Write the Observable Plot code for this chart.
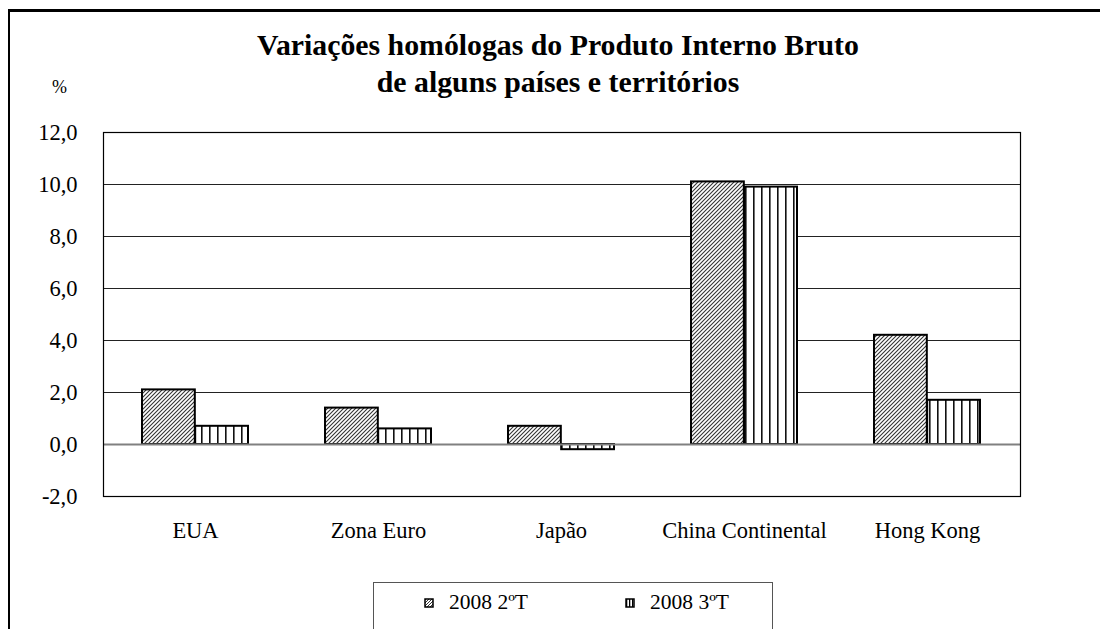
<!DOCTYPE html>
<html>
<head>
<meta charset="utf-8">
<script src="https://cdn.jsdelivr.net/npm/d3@7"></script>
<script src="https://cdn.jsdelivr.net/npm/@observablehq/plot@0.6"></script>
<style>
  html, body { margin: 0; padding: 0; background: #fff; overflow: hidden; }
  body { width: 1100px; height: 629px; position: relative; font-family: "Liberation Serif", "Times New Roman", serif; color: #000; }
  #frame { position: absolute; left: 8px; top: 9px; width: 1200px; height: 700px; border-left: 2px solid #000; border-top: 3px solid #000; }
  #title { position: absolute; left: 0; width: 1116px; top: 26px; text-align: center; font-weight: bold; font-size: 29.8px; line-height: 37px; white-space: nowrap; }
  #unit { position: absolute; left: 52px; top: 77px; font-size: 18px; font-family: "Liberation Serif", serif; }
  #chart { position: absolute; left: 0; top: 100px; }
  #chart svg, #chart svg text { font-family: "Liberation Serif", "Times New Roman", serif !important; font-size: 22.5px !important; fill: #000; }
  #legend { position: absolute; left: 373px; top: 582px; width: 400px; height: 80px; border: 1px solid #555; box-sizing: border-box; font-family: "Liberation Serif", serif; }
  .item { position: absolute; top: 4px; height: 30px; font-size: 21.5px; display: flex; align-items: center; gap: 15px; }
  .item svg { display: block; margin-top: 2px; }
</style>
</head>
<body>
<div id="frame"></div>
<div id="title">Variações homólogas do Produto Interno Bruto<br>de alguns países e territórios</div>
<div id="unit">%</div>
<div id="chart"></div>
<div id="legend"></div>
<script>
const categories = ["EUA", "Zona Euro", "Japão", "China Continental", "Hong Kong"];
const seriesNames = ["2008 2ºT", "2008 3ºT"];
const q2Values = [2.1, 1.4, 0.7, 10.1, 4.2];
const q3Values = [0.7, 0.6, -0.2, 9.9, 1.7];
const yTicks = [-2, 0, 2, 4, 6, 8, 10, 12];

const data = categories.flatMap((c, i) => [
  {category: c, series: seriesNames[0], value: q2Values[i]},
  {category: c, series: seriesNames[1], value: q3Values[i]}
]);

const fmt = d => d3.format(".1f")(d).replace(".", ",").replace("−", "-");

const W = 1100, H = 460;
const mL = 103, mR = 80, mT = 32, mB = 64;
const step = (W - mL - mR) / 5;
const bw = step * 0.58;
const half = bw / 2;

const plot = Plot.plot({
  width: W,
  height: H,
  marginLeft: mL,
  marginRight: mR,
  marginTop: mT,
  marginBottom: mB,
  style: {background: "transparent", color: "#000"},
  x: {domain: categories, paddingInner: 0.42, paddingOuter: 0.21, label: null, tickSize: 0, tickPadding: 26},
  y: {domain: [-2, 12], ticks: yTicks, tickFormat: fmt, label: null, tickSize: 0, tickPadding: 26},
  marks: [
    Plot.ruleY(yTicks.filter(d => d !== 0 && d !== -2 && d !== 12), {stroke: "#222", strokeWidth: 1}),
    Plot.barY(data.filter(d => d.series === seriesNames[0]), {x: "category", y: "value", fill: "url(#diag)", stroke: "#000", strokeWidth: 2, insetRight: half}),
    Plot.barY(data.filter(d => d.series === seriesNames[1]), {x: "category", y: "value", fill: "url(#vert)", stroke: "#000", strokeWidth: 2, insetLeft: half}),
    Plot.ruleY([0], {stroke: "#808080", strokeWidth: 2}),
    Plot.frame({stroke: "#000", strokeWidth: 1.2})
  ]
});

const defs = `
<defs>
  <pattern id="diag" patternUnits="userSpaceOnUse" width="4" height="4">
    <rect width="4" height="4" fill="#fff"/>
    <path d="M-1,1 l2,-2 M0,4 l4,-4 M3,5 l2,-2" stroke="#333" stroke-width="1.1"/>
  </pattern>
  <pattern id="vert" patternUnits="userSpaceOnUse" width="8" height="8" x="1">
    <rect width="8" height="8" fill="#fff"/>
    <rect x="0" width="1.6" height="8" fill="#111"/>
  </pattern>
</defs>`;
plot.insertAdjacentHTML("afterbegin", defs);
document.getElementById("chart").appendChild(plot);

// legend
const legend = document.getElementById("legend");
const lefts = [50, 251];
seriesNames.forEach((name, i) => {
  const item = document.createElement("div");
  item.className = "item";
  item.style.left = lefts[i] + "px";
  const sw = document.createElementNS("http://www.w3.org/2000/svg", "svg");
  sw.setAttribute("width", 10); sw.setAttribute("height", 10);
  sw.innerHTML = i === 0
    ? `<defs><pattern id="ldiag" patternUnits="userSpaceOnUse" width="3" height="3"><rect width="3" height="3" fill="#fff"/><path d="M-1,1 l2,-2 M0,3 l3,-3 M2,4 l2,-2" stroke="#333" stroke-width="1"/></pattern></defs><rect x="1" y="1" width="8" height="8" fill="url(#ldiag)" stroke="#000" stroke-width="1.5"/>`
    : `<defs><pattern id="lvert" patternUnits="userSpaceOnUse" width="3" height="3" x="1"><rect width="3" height="3" fill="#fff"/><rect width="1.3" height="3" fill="#000"/></pattern></defs><rect x="1" y="1" width="8" height="8" fill="url(#lvert)" stroke="#000" stroke-width="1.5"/>`;
  item.appendChild(sw);
  const t = document.createElement("span");
  t.textContent = name;
  item.appendChild(t);
  legend.appendChild(item);
});
</script>
</body>
</html>
